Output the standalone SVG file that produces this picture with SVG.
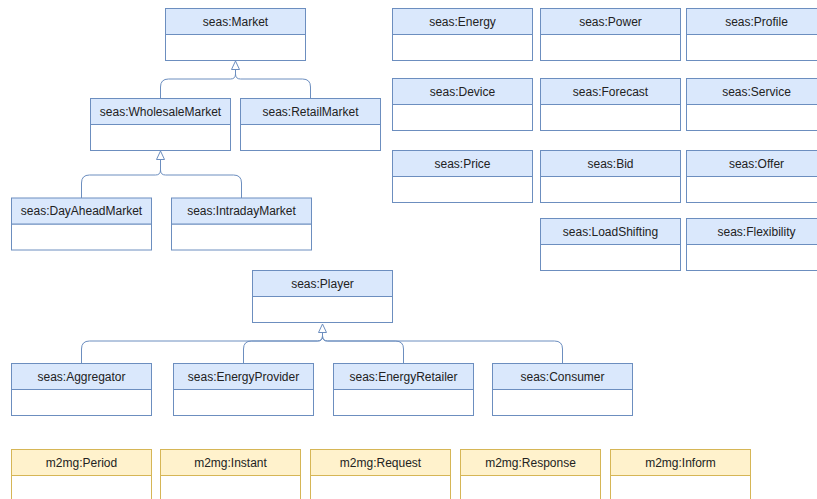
<svg xmlns="http://www.w3.org/2000/svg" width="817" height="499" viewBox="0 0 817 499">
  <style>
    .hb { fill: #dae8fc; stroke: #6c8ebf; stroke-width: 1; }
    .bb { fill: #ffffff; stroke: #6c8ebf; stroke-width: 1; }
    .hy { fill: #fff2cc; stroke: #d6b656; stroke-width: 1; }
    .by { fill: #ffffff; stroke: #d6b656; stroke-width: 1; }
    text { font-family: "Liberation Sans", Arial, sans-serif; font-size: 12px; fill: #222222; text-anchor: middle; }
    .edge { fill: none; stroke: #6c8ebf; stroke-width: 1; }
    .tri { fill: #ffffff; stroke: #6c8ebf; stroke-width: 1; }
  </style>
  <rect width="817" height="499" fill="#ffffff"/>

  <!-- generalisation connectors (rounded orthogonal routes into a hollow triangle) -->
  <g id="connectors">
    <!-- Market hierarchy -->
    <path class="edge" d="M160.5,98.5 V87 Q160.5,79 168.5,79 H230.5 Q235.5,79 235.5,74 V69.5"/>
    <path class="edge" d="M310.5,98.5 V87 Q310.5,79 302.5,79 H240.5 Q235.5,79 235.5,74 V69.5"/>
    <path class="tri" d="M235.5,61 L239.5,69.5 L231.5,69.5 Z"/>
    <!-- WholesaleMarket hierarchy -->
    <path class="edge" d="M81.5,198 V183 Q81.5,175 89.5,175 H155.5 Q160.5,175 160.5,170 V159.5"/>
    <path class="edge" d="M241.5,198 V183 Q241.5,175 233.5,175 H165.5 Q160.5,175 160.5,170 V159.5"/>
    <path class="tri" d="M160.5,151 L164.5,159.5 L156.5,159.5 Z"/>
    <!-- Player hierarchy -->
    <path class="edge" d="M81.5,363.5 V349 Q81.5,341 89.5,341 H317.5 Q322.5,341 322.5,336 V332.5"/>
    <path class="edge" d="M243.5,363.5 V349 Q243.5,341 251.5,341 H317.5 Q322.5,341 322.5,336 V332.5"/>
    <path class="edge" d="M403.5,363.5 V349 Q403.5,341 395.5,341 H327.5 Q322.5,341 322.5,336 V332.5"/>
    <path class="edge" d="M562.5,363.5 V349 Q562.5,341 554.5,341 H327.5 Q322.5,341 322.5,336 V332.5"/>
    <path class="tri" d="M322.5,324 L326.5,332.5 L318.5,332.5 Z"/>
  </g>

  <!-- market classes (140 wide: 26 px header, 26 px body) -->
  <g id="market" transform="translate(165.5,8.5)"><rect class="bb" y="26" width="140" height="26"/><rect class="hb" width="140" height="26"/><text x="70" y="17">seas:Market</text></g>
  <g id="wholesale-market" transform="translate(90.5,98.5)"><rect class="bb" y="26" width="140" height="26"/><rect class="hb" width="140" height="26"/><text x="70" y="17">seas:WholesaleMarket</text></g>
  <g id="retail-market" transform="translate(240.5,98.5)"><rect class="bb" y="26" width="140" height="26"/><rect class="hb" width="140" height="26"/><text x="70" y="17">seas:RetailMarket</text></g>
  <g id="day-ahead-market" transform="translate(11.5,198)"><rect class="bb" y="26" width="140" height="26"/><rect class="hb" width="140" height="26"/><text x="70" y="17">seas:DayAheadMarket</text></g>
  <g id="intraday-market" transform="translate(171.5,198)"><rect class="bb" y="26" width="140" height="26"/><rect class="hb" width="140" height="26"/><text x="70" y="17">seas:IntradayMarket</text></g>

  <!-- standalone classes -->
  <g id="energy" transform="translate(392.5,8.5)"><rect class="bb" y="26" width="140" height="26"/><rect class="hb" width="140" height="26"/><text x="70" y="17">seas:Energy</text></g>
  <g id="power" transform="translate(540.5,8.5)"><rect class="bb" y="26" width="140" height="26"/><rect class="hb" width="140" height="26"/><text x="70" y="17">seas:Power</text></g>
  <g id="profile" transform="translate(686.5,8.5)"><rect class="bb" y="26" width="140" height="26"/><rect class="hb" width="140" height="26"/><text x="70" y="17">seas:Profile</text></g>
  <g id="device" transform="translate(392.5,78.5)"><rect class="bb" y="26" width="140" height="26"/><rect class="hb" width="140" height="26"/><text x="70" y="17">seas:Device</text></g>
  <g id="forecast" transform="translate(540.5,78.5)"><rect class="bb" y="26" width="140" height="26"/><rect class="hb" width="140" height="26"/><text x="70" y="17">seas:Forecast</text></g>
  <g id="service" transform="translate(686.5,78.5)"><rect class="bb" y="26" width="140" height="26"/><rect class="hb" width="140" height="26"/><text x="70" y="17">seas:Service</text></g>
  <g id="price" transform="translate(392.5,150.5)"><rect class="bb" y="26" width="140" height="26"/><rect class="hb" width="140" height="26"/><text x="70" y="17">seas:Price</text></g>
  <g id="bid" transform="translate(540.5,150.5)"><rect class="bb" y="26" width="140" height="26"/><rect class="hb" width="140" height="26"/><text x="70" y="17">seas:Bid</text></g>
  <g id="offer" transform="translate(686.5,150.5)"><rect class="bb" y="26" width="140" height="26"/><rect class="hb" width="140" height="26"/><text x="70" y="17">seas:Offer</text></g>
  <g id="load-shifting" transform="translate(540.5,218.5)"><rect class="bb" y="26" width="140" height="26"/><rect class="hb" width="140" height="26"/><text x="70" y="17">seas:LoadShifting</text></g>
  <g id="flexibility" transform="translate(686.5,218.5)"><rect class="bb" y="26" width="140" height="26"/><rect class="hb" width="140" height="26"/><text x="70" y="17">seas:Flexibility</text></g>

  <!-- player classes -->
  <g id="player" transform="translate(252.5,270.5)"><rect class="bb" y="26" width="140" height="26"/><rect class="hb" width="140" height="26"/><text x="70" y="17">seas:Player</text></g>
  <g id="aggregator" transform="translate(11.5,363.5)"><rect class="bb" y="26" width="140" height="26"/><rect class="hb" width="140" height="26"/><text x="70" y="17">seas:Aggregator</text></g>
  <g id="energy-provider" transform="translate(173.5,363.5)"><rect class="bb" y="26" width="140" height="26"/><rect class="hb" width="140" height="26"/><text x="70" y="17">seas:EnergyProvider</text></g>
  <g id="energy-retailer" transform="translate(333.5,363.5)"><rect class="bb" y="26" width="140" height="26"/><rect class="hb" width="140" height="26"/><text x="70" y="17">seas:EnergyRetailer</text></g>
  <g id="consumer" transform="translate(492.5,363.5)"><rect class="bb" y="26" width="140" height="26"/><rect class="hb" width="140" height="26"/><text x="70" y="17">seas:Consumer</text></g>

  <!-- m2mg classes -->
  <g id="period" transform="translate(11.5,449.5)"><rect class="by" y="26" width="140" height="26"/><rect class="hy" width="140" height="26"/><text x="70" y="17">m2mg:Period</text></g>
  <g id="instant" transform="translate(160.5,449.5)"><rect class="by" y="26" width="140" height="26"/><rect class="hy" width="140" height="26"/><text x="70" y="17">m2mg:Instant</text></g>
  <g id="request" transform="translate(310.5,449.5)"><rect class="by" y="26" width="140" height="26"/><rect class="hy" width="140" height="26"/><text x="70" y="17">m2mg:Request</text></g>
  <g id="response" transform="translate(460.5,449.5)"><rect class="by" y="26" width="140" height="26"/><rect class="hy" width="140" height="26"/><text x="70" y="17">m2mg:Response</text></g>
  <g id="inform" transform="translate(610.5,449.5)"><rect class="by" y="26" width="140" height="26"/><rect class="hy" width="140" height="26"/><text x="70" y="17">m2mg:Inform</text></g>
</svg>
